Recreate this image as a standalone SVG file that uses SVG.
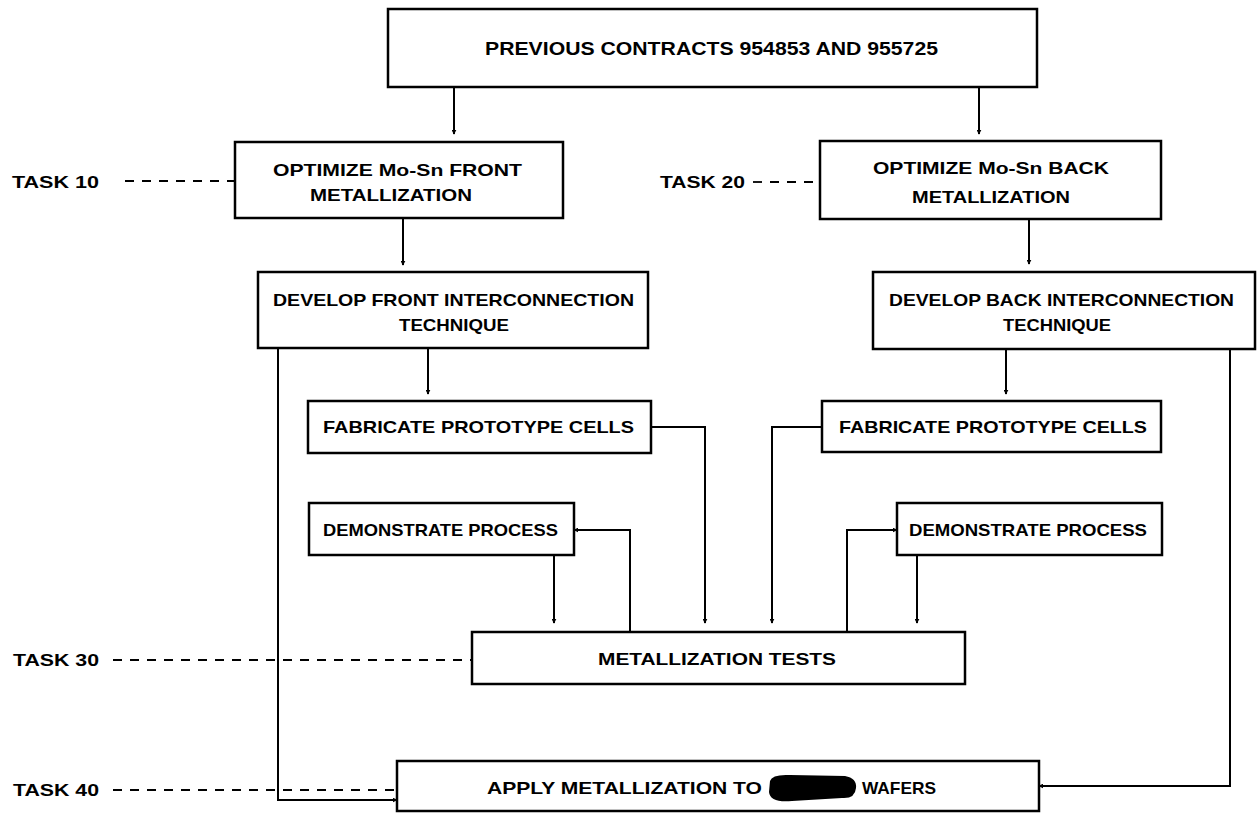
<svg xmlns="http://www.w3.org/2000/svg" width="1257" height="813" viewBox="0 0 1257 813">
<style>
.box{fill:#fff;stroke:#000;stroke-width:2.5}
.t{font-family:"Liberation Sans",Arial,sans-serif;font-weight:bold;font-size:17px;fill:#000}
.c{fill:none;stroke:#000;stroke-width:2}
.d{fill:none;stroke:#000;stroke-width:1.8;stroke-dasharray:9 8}
</style>
<defs>
<marker id="ah" viewBox="0 0 8 8" refX="7" refY="4" markerWidth="5" markerHeight="5" orient="auto" markerUnits="userSpaceOnUse">
<path d="M0,0 L8,4 L0,8 Z" fill="#000"/>
</marker>
</defs>
<rect width="1257" height="813" fill="#fff"/>
<g id="connectors">
<line class="c" x1="454" y1="87" x2="454" y2="134" marker-end="url(#ah)"/>
<line class="c" x1="979" y1="87" x2="979" y2="134" marker-end="url(#ah)"/>
<line class="c" x1="403" y1="218" x2="403" y2="265" marker-end="url(#ah)"/>
<line class="c" x1="1029" y1="219" x2="1029" y2="264" marker-end="url(#ah)"/>
<line class="c" x1="428" y1="348" x2="428" y2="394" marker-end="url(#ah)"/>
<line class="c" x1="1006" y1="349" x2="1006" y2="394" marker-end="url(#ah)"/>
<polyline class="c" points="278,348 278,800 397,800" marker-end="url(#ah)"/>
<polyline class="c" points="1230,349 1230,786 1039,786" marker-end="url(#ah)"/>
<polyline class="c" points="651,427 705,427 705,623" marker-end="url(#ah)"/>
<polyline class="c" points="822,427 772,427 772,623" marker-end="url(#ah)"/>
<line class="c" x1="554" y1="555" x2="554" y2="623" marker-end="url(#ah)"/>
<line class="c" x1="917" y1="555" x2="917" y2="623" marker-end="url(#ah)"/>
<polyline class="c" points="630,632 630,530 574,530" marker-end="url(#ah)"/>
<polyline class="c" points="847,632 847,530 897,530" marker-end="url(#ah)"/>
<line class="d" x1="125" y1="181" x2="235" y2="181"/>
<line class="d" x1="753" y1="182" x2="820" y2="182"/>
<line class="d" x1="113" y1="660" x2="472" y2="660"/>
<line class="d" x1="113" y1="790" x2="397" y2="790"/>
</g>
<g id="task10-label"><text class="t" x="12" y="188" textLength="87" lengthAdjust="spacingAndGlyphs">TASK 10</text></g>
<g id="task20-label"><text class="t" x="660" y="188" textLength="85" lengthAdjust="spacingAndGlyphs">TASK 20</text></g>
<g id="task30-label"><text class="t" x="13" y="666" textLength="86" lengthAdjust="spacingAndGlyphs">TASK 30</text></g>
<g id="task40-label"><text class="t" x="13" y="796" textLength="86" lengthAdjust="spacingAndGlyphs">TASK 40</text></g>
<g id="previous">
<rect class="box" x="388" y="9" width="649" height="78"/>
<text class="t" style="font-size:18px" x="485" y="55" textLength="453" lengthAdjust="spacingAndGlyphs">PREVIOUS CONTRACTS 954853 AND 955725</text>
</g>
<g id="optimize-front">
<rect class="box" x="235" y="142" width="328" height="76"/>
<text class="t" x="273" y="176" textLength="249" lengthAdjust="spacingAndGlyphs">OPTIMIZE Mo-Sn FRONT</text>
<text class="t" x="310" y="201" textLength="162" lengthAdjust="spacingAndGlyphs">METALLIZATION</text>
</g>
<g id="optimize-back">
<rect class="box" x="820" y="141" width="341" height="78"/>
<text class="t" x="873" y="174" textLength="236" lengthAdjust="spacingAndGlyphs">OPTIMIZE Mo-Sn BACK</text>
<text class="t" x="912" y="203" textLength="158" lengthAdjust="spacingAndGlyphs">METALLIZATION</text>
</g>
<g id="develop-front">
<rect class="box" x="258" y="272" width="390" height="76"/>
<text class="t" x="273" y="306" textLength="361" lengthAdjust="spacingAndGlyphs">DEVELOP FRONT INTERCONNECTION</text>
<text class="t" x="399" y="331" textLength="110" lengthAdjust="spacingAndGlyphs">TECHNIQUE</text>
</g>
<g id="develop-back">
<rect class="box" x="873" y="272" width="382" height="77"/>
<text class="t" x="889" y="306" textLength="345" lengthAdjust="spacingAndGlyphs">DEVELOP BACK INTERCONNECTION</text>
<text class="t" x="1003" y="331" textLength="108" lengthAdjust="spacingAndGlyphs">TECHNIQUE</text>
</g>
<g id="fabricate-front">
<rect class="box" x="308" y="401" width="343" height="52"/>
<text class="t" x="323" y="433" textLength="311" lengthAdjust="spacingAndGlyphs">FABRICATE PROTOTYPE CELLS</text>
</g>
<g id="fabricate-back">
<rect class="box" x="822" y="401" width="339" height="51"/>
<text class="t" x="839" y="433" textLength="308" lengthAdjust="spacingAndGlyphs">FABRICATE PROTOTYPE CELLS</text>
</g>
<g id="demonstrate-front">
<rect class="box" x="309" y="503" width="265" height="52"/>
<text class="t" x="323" y="536" textLength="235" lengthAdjust="spacingAndGlyphs">DEMONSTRATE PROCESS</text>
</g>
<g id="demonstrate-back">
<rect class="box" x="897" y="503" width="265" height="52"/>
<text class="t" x="909" y="536" textLength="238" lengthAdjust="spacingAndGlyphs">DEMONSTRATE PROCESS</text>
</g>
<g id="tests">
<rect class="box" x="472" y="632" width="493" height="52"/>
<text class="t" x="598" y="665" textLength="238" lengthAdjust="spacingAndGlyphs">METALLIZATION TESTS</text>
</g>
<g id="apply">
<rect class="box" x="397" y="761" width="642" height="50"/>
<text class="t" x="487" y="794" textLength="275" lengthAdjust="spacingAndGlyphs">APPLY METALLIZATION TO</text>
<path d="M770,781 Q772,774 790,775 L845,776 Q857,778 856,788 Q855,799 842,798 L792,801 Q770,803 769,792 Z" fill="#000"/>
<text class="t" x="862" y="794" textLength="74" lengthAdjust="spacingAndGlyphs">WAFERS</text>
</g>
</svg>
